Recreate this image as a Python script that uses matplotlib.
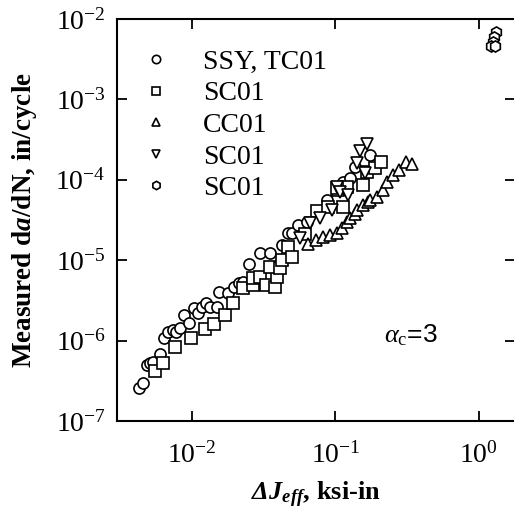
import numpy as np
import matplotlib
matplotlib.use("Agg")
import matplotlib.pyplot as plt
from matplotlib.ticker import LogLocator, LogFormatterSciNotation, NullLocator

plt.rcParams['font.family'] = 'Liberation Serif'
plt.rcParams['mathtext.fontset'] = 'custom'
plt.rcParams['mathtext.rm'] = 'Liberation Serif'
plt.rcParams['mathtext.it'] = 'Liberation Serif:italic'
plt.rcParams['mathtext.bf'] = 'Liberation Serif:bold'
plt.rcParams['mathtext.bfit'] = 'Liberation Serif:bold:italic'
plt.rcParams['axes.unicode_minus'] = False

# SSY, TC01 (circles)
ssy_x = [0.00426, 0.00454, 0.00484, 0.00508, 0.00533, 0.00597, 0.00637, 0.00682,
         0.00736, 0.00773, 0.00825, 0.00880, 0.00953, 0.01033, 0.0110, 0.01175,
         0.01255, 0.01337, 0.01496, 0.01545, 0.01786, 0.01967, 0.02133, 0.02275,
         0.02506, 0.02992, 0.0351, 0.0426, 0.0469, 0.0500, 0.0551, 0.0637,
         0.0879, 0.1138, 0.1274, 0.138, 0.1758]
ssy_y = [2.57e-7, 2.97e-7, 4.98e-7, 5.26e-7, 5.42e-7, 6.81e-7, 1.08e-6, 1.28e-6,
         1.35e-6, 1.28e-6, 1.44e-6, 2.08e-6, 1.66e-6, 2.54e-6, 2.20e-6, 2.62e-6,
         2.94e-6, 2.62e-6, 2.62e-6, 4.02e-6, 3.91e-6, 4.64e-6, 5.20e-6, 5.36e-6,
         8.97e-6, 1.23e-5, 1.23e-5, 1.55e-5, 2.18e-5, 2.18e-5, 2.74e-5, 2.99e-5,
         5.61e-5, 9.40e-5, 1.05e-4, 1.46e-4, 2.03e-4]

# SC01 (squares)
sq_x = [0.00551, 0.00627, 0.00760, 0.00984, 0.01236, 0.01427, 0.01703, 0.01937,
        0.02275, 0.02673, 0.02673, 0.02992, 0.0329, 0.0380, 0.0393, 0.0351,
        0.0412, 0.0426, 0.0469, 0.0500, 0.0617, 0.0748, 0.0893, 0.1050,
        0.1138, 0.1214, 0.1033, 0.157, 0.1675, 0.1905, 0.2065]
sq_y = [4.19e-7, 5.26e-7, 8.32e-7, 1.08e-6, 1.39e-6, 1.61e-6, 2.08e-6, 2.94e-6,
        4.51e-6, 4.92e-6, 6.01e-6, 6.18e-6, 4.92e-6, 4.64e-6, 6.18e-6, 8.22e-6,
        8.00e-6, 1.00e-5, 1.46e-5, 1.10e-5, 2.12e-5, 4.09e-5, 4.59e-5, 7.46e-5,
        4.59e-5, 8.13e-5, 7.91e-5, 8.61e-5, 1.25e-4, 1.40e-4, 1.66e-4]

# CC01 (up triangles)
cc_x = [0.0648, 0.0736, 0.0824, 0.0923, 0.1033, 0.1120, 0.1214, 0.1274, 0.138,
        0.1426, 0.157, 0.170, 0.1758, 0.1967, 0.2133, 0.231, 0.2506, 0.276,
        0.309, 0.345]
cc_y = [1.59e-5, 1.78e-5, 1.94e-5, 2.06e-5, 2.18e-5, 2.51e-5, 2.99e-5, 3.35e-5,
        3.76e-5, 4.21e-5, 4.86e-5, 5.30e-5, 5.61e-5, 6.11e-5, 7.46e-5, 9.40e-5,
        1.15e-4, 1.32e-4, 1.66e-4, 1.57e-4]

# SC01 (down triangles)
sd_x = [0.0569, 0.0669, 0.0785, 0.0953, 0.1033, 0.1084, 0.1233, 0.1426, 0.162,
        0.1496, 0.1675]
sd_y = [1.89e-5, 2.90e-5, 3.35e-5, 4.21e-5, 8.13e-5, 7.05e-5, 6.47e-5, 1.62e-4,
        1.22e-4, 2.28e-4, 2.79e-4]

# SC01 (hexagons)
hx_x = [1.315, 1.273, 1.253, 1.213, 1.294]
hx_y = [6.89e-3, 5.97e-3, 5.18e-3, 4.61e-3, 4.61e-3]

fig = plt.figure(figsize=(5.14, 5.14), dpi=100)
ax = fig.add_axes([0.2276, 0.181, 0.775, 0.782])

kw = dict(linestyle='none', mfc='white', mec='black', mew=1.2, ms=8)
ax.plot(ssy_x, ssy_y, marker='o', label='SSY, TC01', **kw)
ax.plot(sq_x, sq_y, marker='s', label='SC01', **kw)
ax.plot(cc_x, cc_y, marker='^', label='CC01', **kw)
ax.plot(sd_x, sd_y, marker='v', label='SC01', **kw)
ax.plot(hx_x, hx_y, marker='h', label='SC01', **kw)

ax.set_xscale('log')
ax.set_yscale('log')
ax.set_xlim(0.003, 1.8)
ax.set_ylim(1e-7, 1e-2)

ax.xaxis.set_major_locator(LogLocator(base=10, numticks=10))
ax.yaxis.set_major_locator(LogLocator(base=10, numticks=10))
ax.xaxis.set_minor_locator(NullLocator())
ax.yaxis.set_minor_locator(NullLocator())
ax.xaxis.set_major_formatter(LogFormatterSciNotation())
ax.yaxis.set_major_formatter(LogFormatterSciNotation())
ax.tick_params(which='major', direction='in', length=7, width=1.3,
               top=True, right=True, labelsize=20, pad=8)
ax.tick_params(axis='x', pad=15)
for s in ax.spines.values():
    s.set_linewidth(1.5)

ax.set_xlabel(r'$\mathbfit{\Delta J}_{\mathbfit{eff}}$, ksi-in', fontsize=19,
              fontweight='bold', labelpad=8)
ax.set_ylabel(r'Measured d$\mathbfit{a}$/dN, in/cycle', fontsize=19.5,
              fontweight='bold', labelpad=12)

ax.text(0.67, 0.195, r'$\alpha_\mathrm{c}$=3', transform=ax.transAxes,
        fontsize=19, family='Liberation Sans')

ax.legend(loc='upper left', frameon=False, fontsize=20, markerscale=0.75,
          handlelength=1.0, handletextpad=1.2, labelspacing=0.22,
          borderaxespad=0.0, bbox_to_anchor=(0.035, 0.952))

fig.savefig('out.png', dpi=100)
